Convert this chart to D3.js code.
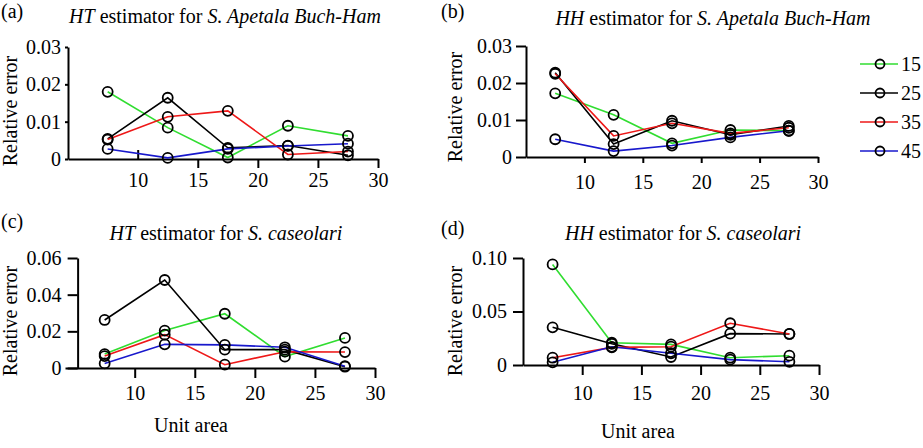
<!DOCTYPE html>
<html>
<head>
<meta charset="utf-8">
<script src="https://cdn.jsdelivr.net/npm/d3@7"></script>
</head>
<body style="margin:0">
<svg id="canvas" width="923" height="448"></svg>
<script>
// Data: relative error by unit area, one row per series (15, 25, 35, 45)
var unitArea = [7.5, 12.5, 17.5, 22.5, 27.5];
var seriesNames = ["15", "25", "35", "45"];
var seriesColors = ["#30dd30", "#000000", "#ee1818", "#1818cc"];

var htApetala = [
    [0.0180, 0.0084, 0.0004, 0.0089, 0.0062],
    [0.0054, 0.0164, 0.0030, 0.0036, 0.0010],
    [0.0052, 0.0113, 0.0129, 0.0012, 0.0020],
    [0.0027, 0.0003, 0.0027, 0.0035, 0.0041]
];
var hhApetala = [
    [0.0172, 0.0114, 0.0037, 0.0073, 0.0071],
    [0.0228, 0.0035, 0.0098, 0.0060, 0.0084],
    [0.0225, 0.0057, 0.0091, 0.0064, 0.0079],
    [0.0048, 0.0016, 0.0031, 0.0053, 0.0071]
];
var htCaseolari = [
    [0.0076, 0.0204, 0.0296, 0.0062, 0.0164],
    [0.0262, 0.0480, 0.0100, 0.0100, 0.0007],
    [0.0065, 0.0182, 0.0018, 0.0089, 0.0087],
    [0.0025, 0.0129, 0.0126, 0.0113, 0.0010]
];
var hhCaseolari = [
    [0.0940, 0.0208, 0.0193, 0.0068, 0.0087],
    [0.0352, 0.0198, 0.0075, 0.0293, 0.0290],
    [0.0068, 0.0165, 0.0171, 0.0390, 0.0290],
    [0.0025, 0.0170, 0.0110, 0.0050, 0.0030]
];

var xTicks = [10, 15, 20, 25, 30];
var FONT = '"Liberation Serif", "Times New Roman", Tinos, serif';
var FS = "20px";

var panels = [
    {tag: "(a)", est: "HT", sp: "S. Apetala Buch-Ham", data: htApetala,
     xr: [68, 378], xd: [4.2, 30], yAxisAt: 4.2, yr: [159, 47], yd: [0, 0.03],
     yTicks: [0, 0.01, 0.02, 0.03], yTick: 3, yPad: 4, xTick: 9, xPad: 5,
     tagPos: [1, 18], titleX: 225, titleY: 23, labX: 17, labY: 111},
    {tag: "(b)", est: "HH", sp: "S. Apetala Buch-Ham", data: hhApetala,
     xr: [526, 818], xd: [5, 30], yAxisAt: 5, yr: [157, 46], yd: [0, 0.03],
     yTicks: [0, 0.01, 0.02, 0.03], yTick: 10, yPad: 4, xTick: 6, xPad: 12,
     tagPos: [441, 18], titleX: 713, titleY: 25, labX: 462, labY: 107},
    {tag: "(c)", est: "HT", sp: "S. caseolari", data: htCaseolari,
     xr: [65, 375], xd: [4.2, 30], yAxisAt: 5.25, yr: [368, 258], yd: [0, 0.06],
     yTicks: [0, 0.02, 0.04, 0.06], yTick: 10, yPad: 6, xTick: 10, xPad: 8,
     tagPos: [1, 228], titleX: 226, titleY: 240, labX: 17, labY: 321,
     xlab: [191, 432]},
    {tag: "(d)", est: "HH", sp: "S. caseolari", data: hhCaseolari,
     xr: [523, 819], xd: [5, 30], yAxisAt: 5, yr: [365, 258], yd: [0, 0.10],
     yTicks: [0, 0.05, 0.10], yTick: 10, yPad: 6, xTick: 10, xPad: 11,
     tagPos: [441, 235], titleX: 683, titleY: 240, labX: 462, labY: 321,
     xlab: [638, 438]}
];

var yFmt = function(d) { return d === 0 ? "0" : d.toFixed(2); };

var svg = d3.select("#canvas").style("font-family", FONT);

function styleText(sel) {
    return sel.style("font-family", FONT).style("font-size", FS).style("fill", "#000");
}

function styleAxis(sel) {
    sel.attr("font-family", null);
    sel.selectAll("path, line").style("stroke", "#000").style("stroke-width", 2);
    styleText(sel.selectAll("text"));
}

panels.forEach(function(p, pi) {
    var x = d3.scaleLinear().domain(p.xd).range(p.xr);
    var y = d3.scaleLinear().domain(p.yd).range(p.yr);
    var g = svg.append("g");

    // Panel tag
    styleText(g.append("text")
        .attr("x", p.tagPos[0]).attr("y", p.tagPos[1]))
        .text(p.tag);

    // Title with italic estimator and species
    var t = styleText(g.append("text")
        .attr("x", p.titleX).attr("y", p.titleY)
        .attr("text-anchor", "middle"));
    t.append("tspan").style("font-style", "italic").text(p.est);
    t.append("tspan").text(" estimator for ");
    t.append("tspan").style("font-style", "italic").text(p.sp);

    // X axis
    var xa = g.append("g")
        .attr("transform", "translate(0," + y(0) + ")")
        .call(d3.axisBottom(x).tickValues(xTicks).tickSizeInner(p.xTick).tickSizeOuter(0).tickPadding(p.xPad))
        .call(styleAxis);
    // panel (a): the tick at 10 points up into the plot
    if (pi === 0) {
        xa.selectAll(".tick").filter(function(d) { return d === 10; })
            .select("line").attr("y2", -p.xTick);
    }

    // Y axis
    g.append("g")
        .attr("transform", "translate(" + x(p.yAxisAt) + ",0)")
        .call(d3.axisLeft(y).tickValues(p.yTicks).tickFormat(yFmt)
            .tickSizeInner(p.yTick).tickSizeOuter(0).tickPadding(p.yPad))
        .call(styleAxis);

    styleText(g.append("text")
        .attr("transform", "translate(" + p.labX + "," + p.labY + ") rotate(-90)")
        .attr("text-anchor", "middle"))
        .text("Relative error");

    if (p.xlab) {
        styleText(g.append("text")
            .attr("x", p.xlab[0]).attr("y", p.xlab[1])
            .attr("text-anchor", "middle"))
            .text("Unit area");
    }

    var line = d3.line()
        .x(function(d, i) { return x(unitArea[i]); })
        .y(function(d) { return y(d); });

    p.data.forEach(function(vals, s) {
        g.append("path")
            .style("fill", "none")
            .style("stroke-width", 1.6)
            .style("stroke", seriesColors[s])
            .attr("d", line(vals));
    });
    p.data.forEach(function(vals) {
        g.selectAll(null)
            .data(vals)
            .enter().append("circle")
            .style("fill", "none").style("stroke", "#000").style("stroke-width", 1.8)
            .attr("cx", function(d, i) { return x(unitArea[i]); })
            .attr("cy", function(d) { return y(d); })
            .attr("r", 5);
    });
});

// Legend
var legendY = d3.scalePoint().domain(seriesNames).range([64, 151]);
var legend = svg.append("g");
seriesNames.forEach(function(name, s) {
    legend.append("line")
        .attr("x1", 860).attr("x2", 898)
        .attr("y1", legendY(name)).attr("y2", legendY(name))
        .style("stroke", seriesColors[s]).style("stroke-width", 1.6);
    legend.append("circle")
        .style("fill", "none").style("stroke", "#000").style("stroke-width", 1.8)
        .attr("cx", 880).attr("cy", legendY(name)).attr("r", 4.5);
    styleText(legend.append("text")
        .attr("x", 901).attr("y", legendY(name))
        .attr("dy", "0.35em"))
        .text(name);
});
</script>
</body>
</html>
